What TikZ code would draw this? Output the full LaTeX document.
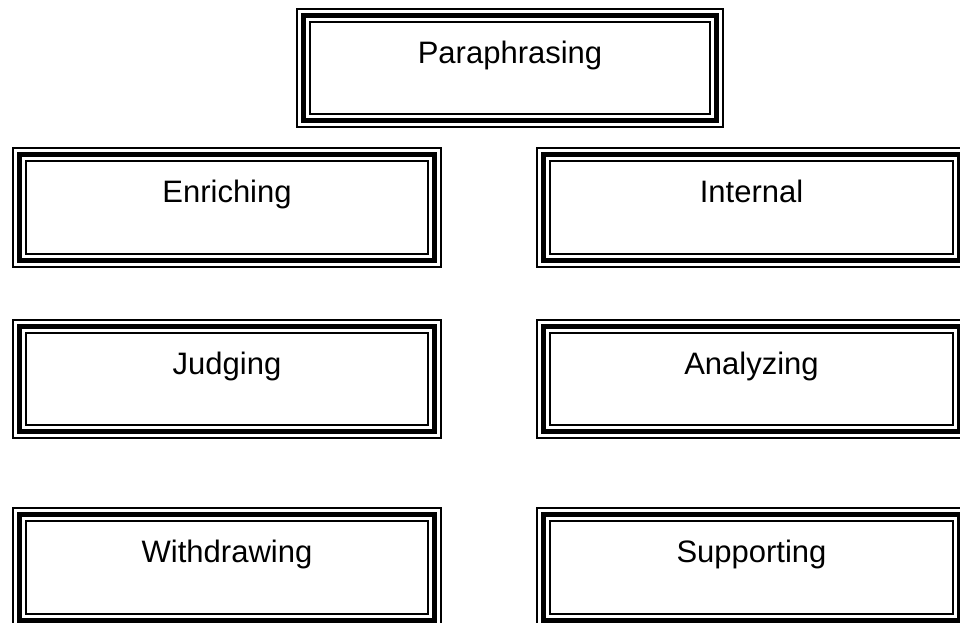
\documentclass[tikz,border=0pt]{standalone}
\usepackage{fontspec}
\setmainfont{Liberation Sans}
\newcommand{\tribox}[6]{%
  % #1 name, #2 left, #3 top, #4 right, #5 bottom (image px, y down), #6 text
  \node[framebox, minimum width={(#4-#2)*1pt}, minimum height={(#5-#3)*1pt}, anchor=north west] (#1) at (#2,623-#3) {};
  \draw[line width=1.8pt] ([shift={(0.9,-0.9)}]#1.north west) rectangle ([shift={(-0.9,0.9)}]#1.south east);
  \draw[line width=5.5pt] ([shift={(7.3,-7.3)}]#1.north west) rectangle ([shift={(-7.3,7.3)}]#1.south east);
  \draw[line width=2.4pt] ([shift={(13.8,-13.8)}]#1.north west) rectangle ([shift={(-13.8,13.8)}]#1.south east);
  \node[boxlabel] (#1-t) at ([yshift=-55.5pt]#1.north) {#6};
}
\begin{document}
\begin{tikzpicture}[x=1pt,y=1pt,
  framebox/.style={rectangle, inner sep=0pt, outer sep=0pt, draw=none},
  boxlabel/.style={anchor=base, inner sep=0pt, font=\fontsize{31}{37}\selectfont}]
\useasboundingbox (0,0) rectangle (960,623);
\fill[white] (0,0) rectangle (960,623);
\tribox{para}{296}{8}{724}{128}{Paraphrasing}
\tribox{enr}{12}{147}{442}{268}{Enriching}
\tribox{int}{536}{147}{967}{268}{Internal}
\tribox{jud}{12}{319}{442}{439}{Judging}
\tribox{ana}{536}{319}{967}{439}{Analyzing}
\tribox{wit}{12}{507}{442}{628}{Withdrawing}
\tribox{sup}{536}{507}{967}{628}{Supporting}
\end{tikzpicture}
\end{document}
